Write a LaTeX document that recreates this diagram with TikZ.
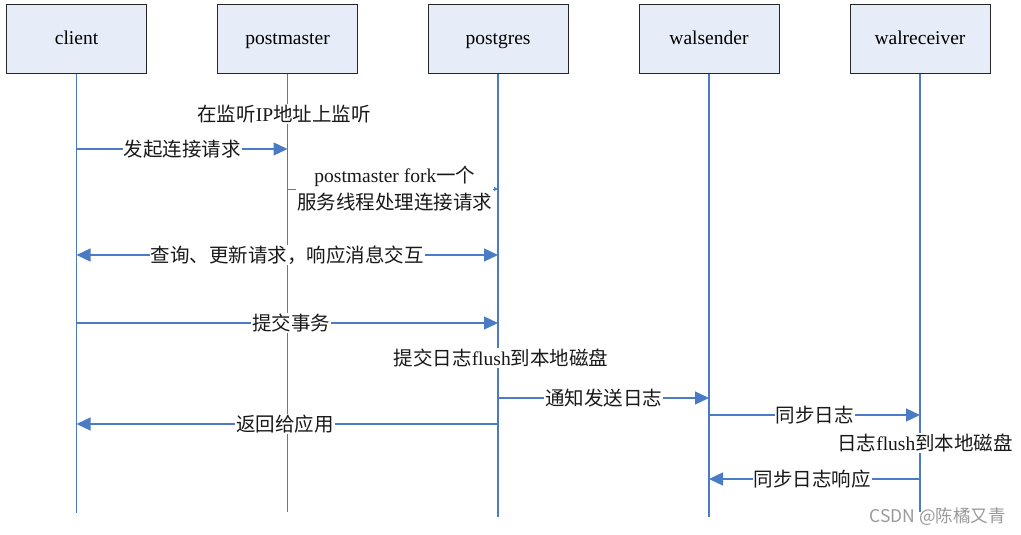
\documentclass[tikz,border=0pt]{standalone}
\usepackage{fontspec}
\setmainfont{Liberation Serif}
\newfontfamily\cjk{Noto Sans CJK SC}
\usetikzlibrary{arrows.meta}
\definecolor{lineblue}{HTML}{4A7BC4}
\definecolor{boxfill}{HTML}{E7EDF8}
\begin{document}
\begin{tikzpicture}[x=1pt,y=-1pt,
  actor/.style={draw=black!85,line width=1pt,fill=boxfill,minimum width=140pt,minimum height=69pt,inner sep=0pt,text height=13pt,text depth=2pt,font=\fontsize{19.5}{23}\selectfont},
  life/.style={draw=lineblue,line width=1.3pt},
  msg/.style={draw=lineblue,line width=1.2pt,-{Triangle[length=14pt,width=13pt]}},
  bimsg/.style={draw=lineblue,line width=1.2pt,{Triangle[length=14pt,width=13pt]}-{Triangle[length=14pt,width=13pt]}},
  lbl/.style={fill=white,inner sep=1pt,font=\fontsize{19.5}{27}\selectfont,text=black!90,align=center}]
\useasboundingbox (0,0) rectangle (1021,535);
% actors
\node[actor] (client) at (76.5,39) {client};
\node[actor] (pm) at (287.5,39) {postmaster};
\node[actor] (pg) at (498,39) {postgres};
\node[actor] (ws) at (709,39) {walsender};
\node[actor] (wr) at (920,39) {walreceiver};
% lifeline ends
\coordinate (clientEnd) at (76.5,513);
\coordinate (pmEnd) at (287.5,512);
\coordinate (pgEnd) at (498,517);
\coordinate (wsEnd) at (709,517);
\coordinate (wrEnd) at (920,512);
\draw[life] (client.south) -- (clientEnd);
\draw[life] (pm.south) -- (pmEnd);
\draw[life] (pg.south) -- (pgEnd);
\draw[life] (ws.south) -- (wsEnd);
\draw[life] (wr.south) -- (wrEnd);
% message anchor points
\coordinate (c1) at (76.5,149);  \coordinate (pm1) at (287.5,149);
\coordinate (pm2) at (287.5,189); \coordinate (pg2) at (498,189);
\coordinate (c3) at (76.5,255);  \coordinate (pg3) at (498,255);
\coordinate (c4) at (76.5,323);  \coordinate (pg4) at (498,323);
\coordinate (pg5) at (498,398);  \coordinate (ws5) at (709,398);
\coordinate (pg6) at (498,424);  \coordinate (c6) at (76.5,424);
\coordinate (ws7) at (709,415);  \coordinate (wr7) at (920,415);
\coordinate (wr8) at (920,479);  \coordinate (ws8) at (709,479);
% texts on lifelines
\node[lbl] (t1) at (284,114) {{\cjk 在监听}IP{\cjk 地址上监听}};
\node[lbl] (t2) at (501,358) {{\cjk 提交日志}flush{\cjk 到本地磁盘}};
\node[lbl] (t3) at (925,443) {{\cjk 日志}flush{\cjk 到本地磁盘}};
% messages
\draw[msg] (c1) -- node[lbl] {\cjk 发起连接请求} (pm1);
\draw[draw=lineblue,line width=1pt,-{Triangle[length=4pt,width=4pt]}] (pm2) -- node[lbl,pos=0.51] {postmaster fork{\cjk 一个}\\{\cjk 服务线程处理连接请求}} (pg2);
\draw[bimsg] (c3) -- node[lbl] {\cjk 查询、更新请求，响应消息交互} (pg3);
\draw[msg] (c4) -- node[lbl,pos=0.51] {\cjk 提交事务} (pg4);
\draw[msg] (pg5) -- node[lbl] {\cjk 通知发送日志} (ws5);
\draw[msg] (pg6) -- node[lbl,pos=0.505] {\cjk 返回给应用} (c6);
\draw[msg] (ws7) -- node[lbl] {\cjk 同步日志} (wr7);
\draw[msg] (wr8) -- node[lbl,pos=0.51] {\cjk 同步日志响应} (ws8);
% watermark
\node[text=black!40,font=\cjk\fontsize{17.5}{19}\selectfont,anchor=east,inner sep=0pt] (wm) at (1006,517) {CSDN @陈橘又青};
\end{tikzpicture}
\end{document}
